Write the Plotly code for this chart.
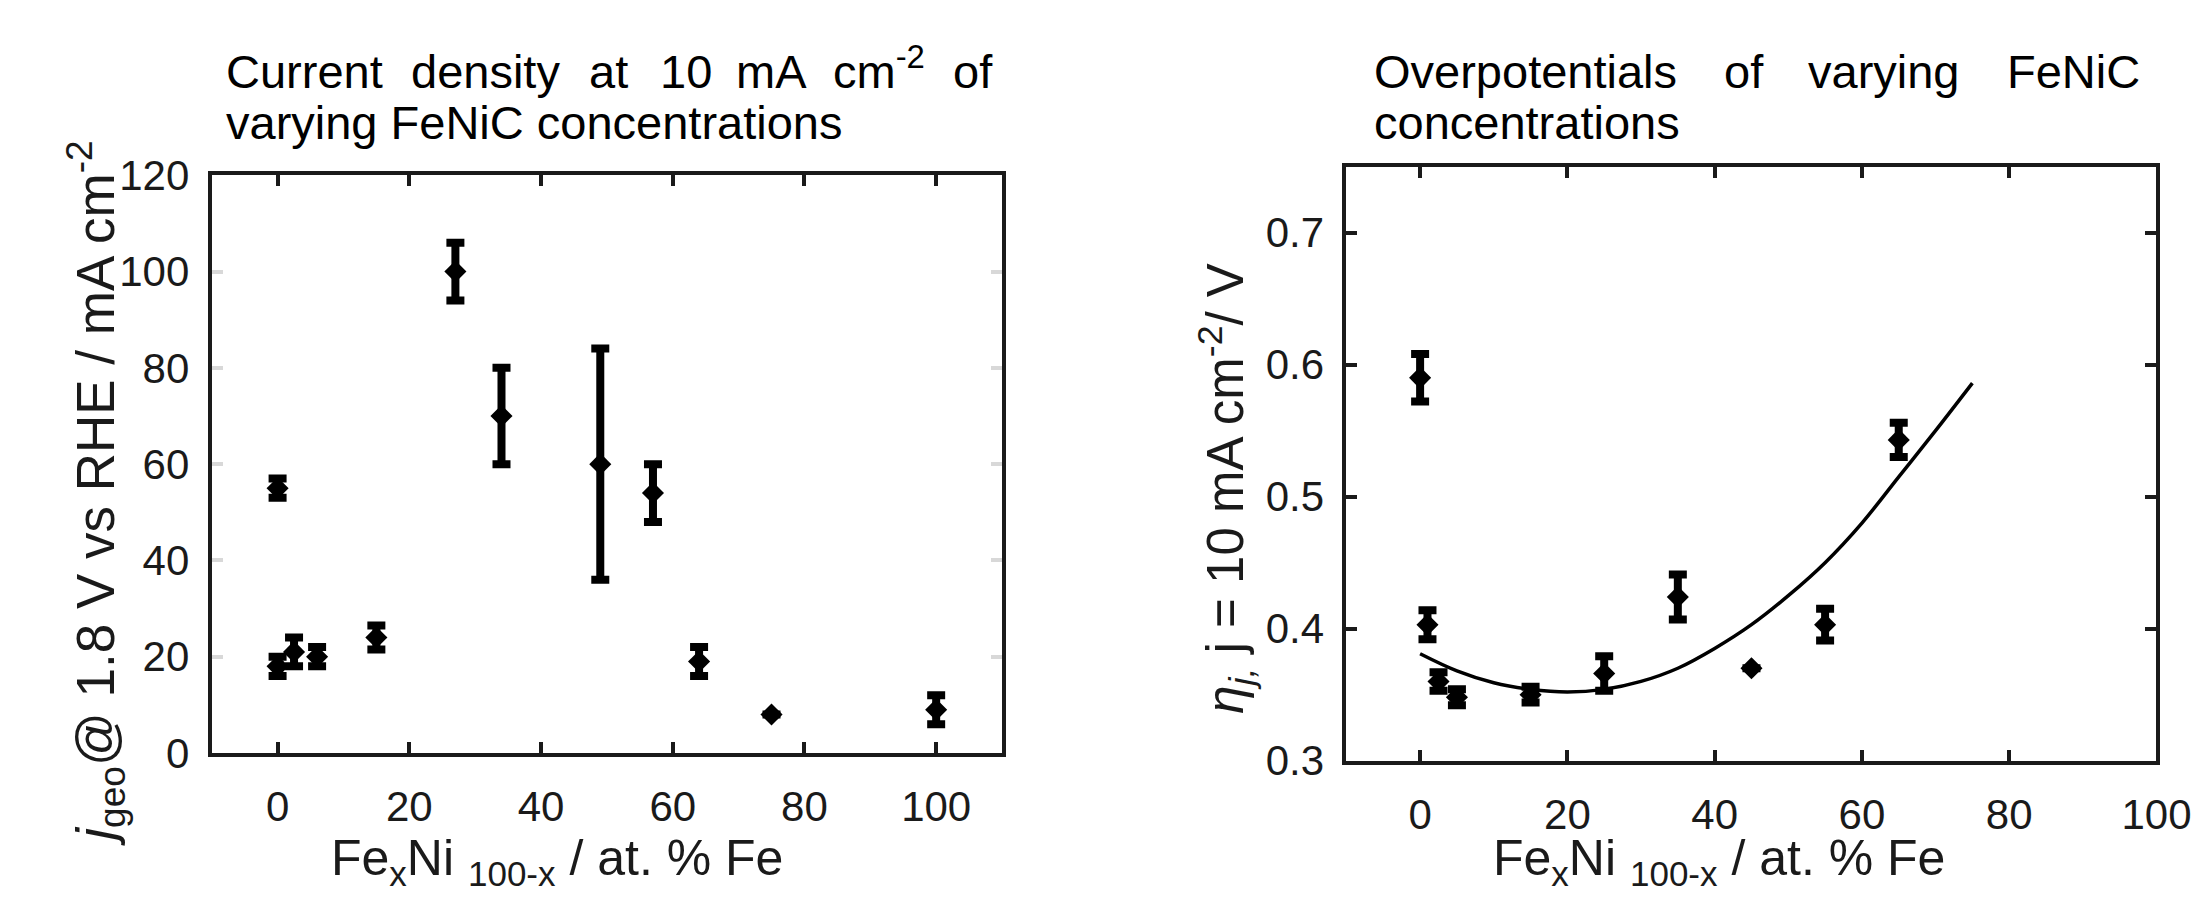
import plotly.graph_objects as go

W, H = 2212, 918
FONT = "Liberation Sans"

# ---- Left panel data: j_geo @ 1.8 V vs RHE ----
left_x = [0, 0, 2.5, 6, 15, 27, 34, 49, 57, 64, 75, 100]
left_y = [55, 18, 21, 20, 24, 100, 70, 60, 54, 19, 8, 9]
left_err = [2, 2, 3, 2, 2.5, 6, 10, 24, 6, 3, None, 3]

# ---- Right panel data: overpotential at 10 mA cm-2 ----
right_x = [0, 1, 2.5, 5, 15, 25, 35, 45, 55, 65]
right_y = [0.590, 0.403, 0.360, 0.348, 0.350, 0.366, 0.424, 0.370, 0.403, 0.543]
right_err = [0.018, 0.011, 0.007, 0.006, 0.006, 0.013, 0.017, None, 0.012, 0.013]

# ---- Fit curve ----
fit_x = [0, 5, 10, 15, 20, 25, 30, 35, 40, 45, 50, 55, 60, 65, 70, 75]
fit_y = [0.381, 0.368, 0.359, 0.354, 0.352, 0.354, 0.360, 0.370, 0.385, 0.403, 0.425, 0.450, 0.480, 0.515, 0.550, 0.586]

# ---- Ticks ----
left_xticks = [0, 20, 40, 60, 80, 100]
left_yticks = [0, 20, 40, 60, 80, 100, 120]
right_xticks = [0, 20, 40, 60, 80, 100]
right_yticks = [0.3, 0.4, 0.5, 0.6, 0.7]


def px(x):
    return x / W


def py(y):
    return 1 - y / H


fig = go.Figure()

marker = dict(symbol="diamond", size=17, color="black")
err_style = dict(type="data", visible=True, color="black", thickness=8, width=9)

fig.add_trace(go.Scatter(
    x=left_x, y=left_y, mode="markers", marker=marker,
    error_y=dict(array=left_err, **err_style),
    xaxis="x", yaxis="y", showlegend=False))

fig.add_trace(go.Scatter(
    x=fit_x, y=fit_y, mode="lines", line=dict(color="black", width=3.5, shape="spline"),
    xaxis="x2", yaxis="y2", showlegend=False))

fig.add_trace(go.Scatter(
    x=right_x, y=right_y, mode="markers", marker=marker,
    error_y=dict(array=right_err, **err_style),
    xaxis="x2", yaxis="y2", showlegend=False))

tickfont = dict(family=FONT, size=42, color="#1a1a1a")
axis_common = dict(showline=True, linewidth=4, linecolor="#1a1a1a", mirror="ticks",
                   ticks="inside", ticklen=11, tickwidth=4, tickcolor="#1a1a1a",
                   showgrid=False, zeroline=False, tickfont=tickfont,
                   ticklabeloverflow="allow")

fig.update_layout(
    width=W, height=H, autosize=False,
    margin=dict(l=0, r=0, t=0, b=0),
    paper_bgcolor="white", plot_bgcolor="white",
    xaxis=dict(domain=[px(207), px(1010)], range=[-10, 110], tickvals=left_xticks,
               anchor="y", ticklabelstandoff=14, **axis_common),
    yaxis=dict(domain=[py(761), py(152)], range=[0, 120], tickvals=left_yticks,
               anchor="x", ticklabelstandoff=10,
               **{**axis_common, "tickcolor": "#d8d8d8"}),
    xaxis2=dict(domain=[px(1360), px(2183)], range=[-10, 100], tickvals=right_xticks,
                anchor="y2", ticklabelstandoff=14, **axis_common),
    yaxis2=dict(domain=[py(769), py(143)], range=[0.3, 0.75], tickvals=right_yticks,
                tickformat=".1f", anchor="x2", ticklabelstandoff=10, **axis_common),
)

ann = []
TF = dict(family=FONT, size=47, color="black")


def word(text, xl, ybottom):
    ann.append(dict(text=text, x=px(xl), y=py(ybottom), xref="paper", yref="paper",
                    xanchor="left", yanchor="bottom", showarrow=False, font=TF))


# Left title (justified first line); y is the bottom of the text box
for t, xl in [("Current", 219), ("density", 407), ("at", 588), ("10", 660),
              ("mA", 738), ("cm<sup>-2</sup>", 836), ("of", 958)]:
    word(t, xl, 73)
word("varying FeNiC concentrations", 219, 127)

# Right title
for t, xl in [("Overpotentials", 1386), ("of", 1742), ("varying", 1827), ("FeNiC", 2029)]:
    word(t, xl, 73)
word("concentrations", 1386, 127)

AF = dict(family=FONT, size=50, color="#1a1a1a")
xtitle = "Fe<sub>x</sub>Ni <sub>100-x</sub> / at. % Fe"
for xc in (558, 1738):
    ann.append(dict(text=xtitle, x=px(xc), y=py(875), xref="paper", yref="paper",
                    xanchor="center", yanchor="middle", showarrow=False, font=AF))

ann.append(dict(text="<i>j</i><sub>geo</sub>@ 1.8 V vs RHE / mA cm<sup>-2</sup>",
                x=px(88), y=py(487), xref="paper", yref="paper", textangle=-90,
                xanchor="center", yanchor="middle", showarrow=False,
                font=dict(family=FONT, size=53, color="#1a1a1a")))
ann.append(dict(text="<i>η<sub>j,</sub></i> j = 10 mA cm<sup>-2</sup>/ V",
                x=px(1238), y=py(482), xref="paper", yref="paper", textangle=-90,
                xanchor="center", yanchor="middle", showarrow=False,
                font=dict(family=FONT, size=51, color="#1a1a1a")))

fig.update_layout(annotations=ann)
fig.write_html("out.html")
